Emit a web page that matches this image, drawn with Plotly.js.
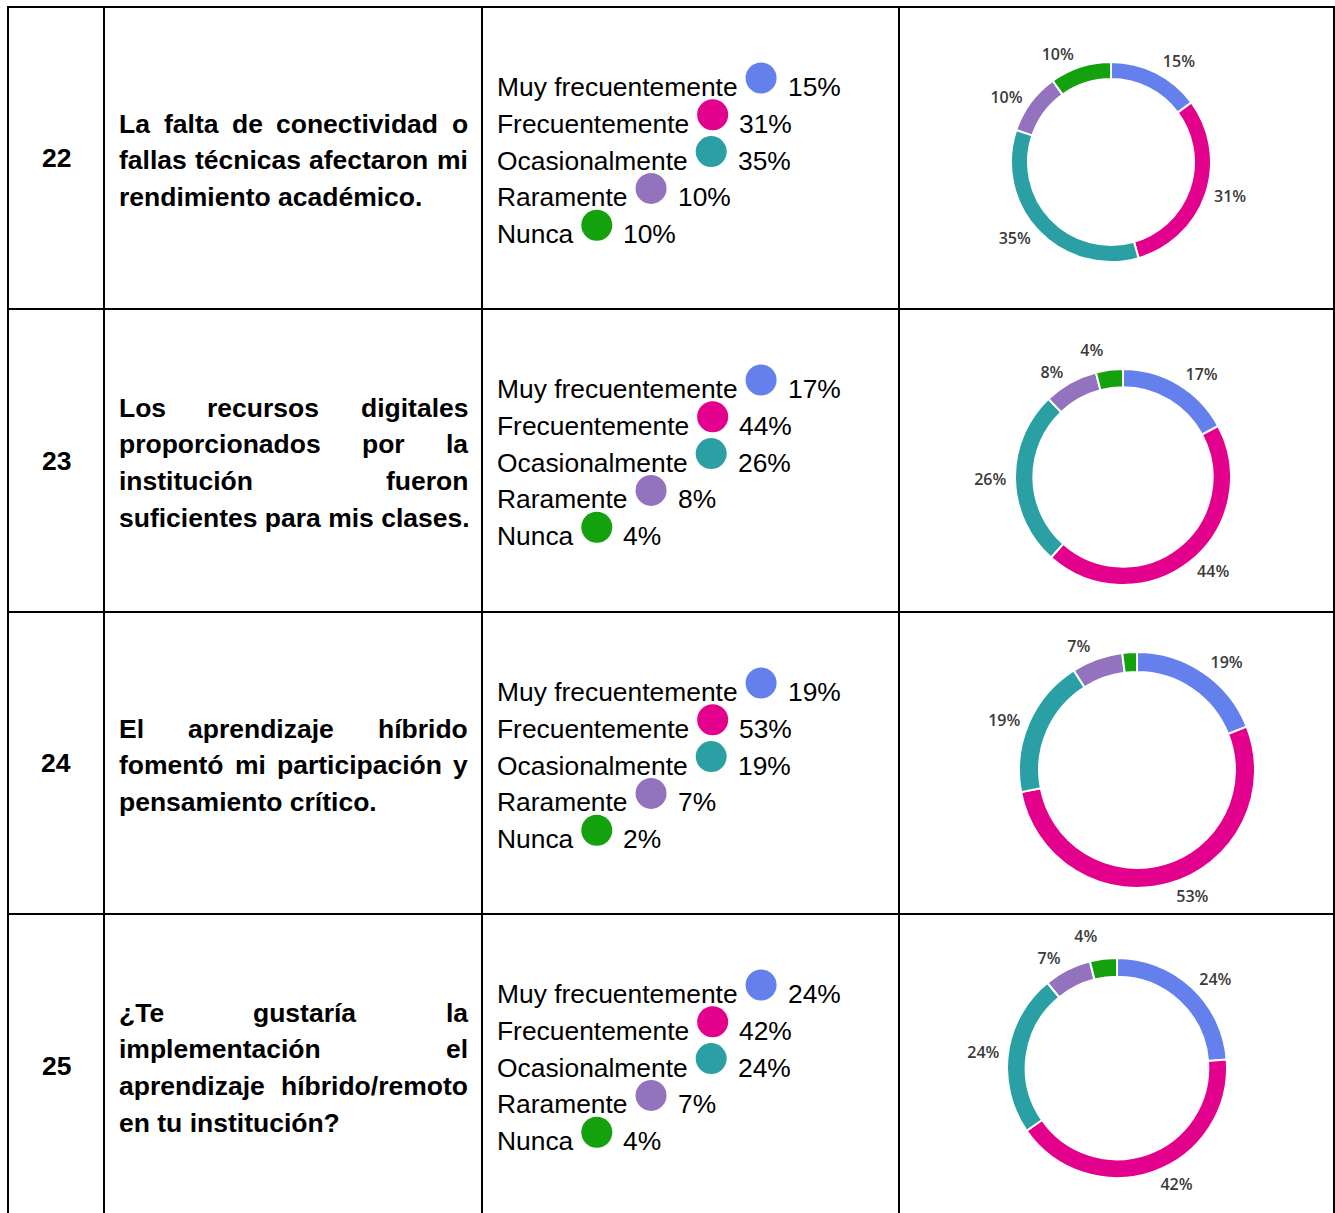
<!DOCTYPE html>
<html>
<head>
<meta charset="utf-8">
<script src="https://cdn.plot.ly/plotly-3.0.1.min.js"></script>
<style>
html,body{margin:0;padding:0;background:#fff;}
#chart{width:1335px;height:1213px;}
</style>
</head>
<body>
<div id="chart"></div>
<script>
// ---------------- DATA ----------------
const questionNumbers = ['22', '23', '24', '25'];
const questionLines = [
  ['La falta de conectividad o', 'fallas técnicas afectaron mi', 'rendimiento académico.'],
  ['Los recursos digitales', 'proporcionados por la', 'institución fueron', 'suficientes para mis clases.'],
  ['El aprendizaje híbrido', 'fomentó mi participación y', 'pensamiento crítico.'],
  ['¿Te gustaría la', 'implementación el', 'aprendizaje híbrido/remoto', 'en tu institución?']
];
const categories = ['Muy frecuentemente', 'Frecuentemente', 'Ocasionalmente', 'Raramente', 'Nunca'];
const q22 = [15, 31, 35, 10, 10];
const q23 = [17, 44, 26, 8, 4];
const q24 = [19, 53, 19, 7, 2];
const q25 = [24, 42, 24, 7, 4];
const seriesValues = [q22, q23, q24, q25];
// which slice labels are printed around each donut (the 2% slice of Q24 has none)
const labelShown = [
  [true, true, true, true, true],
  [true, true, true, true, true],
  [true, true, true, true, false],
  [true, true, true, true, true]
];

// ---------------- STYLE / LAYOUT ----------------
const sliceColors = ['#6380EC', '#E3008C', '#2AA0A4', '#9373BE', '#14A10E'];
const W = 1335, H = 1213;
const colX = [8, 104, 482, 899, 1334];
const rowY = [7, 309, 612, 914, 1222];
const lineGap = 36.8;
const questionStartY = [123.5, 407.5, 728.5, 1012.5];
const legendStartY = [87, 389, 692, 994];
const numberY = [158, 461, 763, 1066];
const textLeft = 118, textRight = 467;
const legendLeft = 496;
const numberX = 56;
const donutGeom = [
  {cx: 1111, cy: 162, r: 100},
  {cx: 1123, cy: 477, r: 108},
  {cx: 1137, cy: 770, r: 118},
  {cx: 1117, cy: 1068, r: 110}
];
const labelPush = 3; // labels sit a little further out than the ring
const FAM = 'Liberation Sans, Arial, sans-serif';
const qFontSize = 26.5, legFontSize = 26.4, dotSize = 31;

const ctx = document.createElement('canvas').getContext('2d');
function measure(text, font) { ctx.font = font; return ctx.measureText(text).width; }

const shapes = [];
colX.forEach(x => shapes.push({type: 'line', xref: 'x', yref: 'y', x0: x, x1: x, y0: rowY[0] - 1, y1: rowY[rowY.length - 1], line: {color: '#000', width: 2}}));
rowY.slice(0, 4).forEach(y => shapes.push({type: 'line', xref: 'x', yref: 'y', x0: colX[0] - 1, x1: colX[colX.length - 1] + 1, y0: y, y1: y, line: {color: '#000', width: 2}}));

const annotations = [];
const dotX = [], dotY = [], dotC = [];

questionNumbers.forEach((num, i) => {
  annotations.push({xref: 'x', yref: 'y', x: numberX, y: numberY[i], text: '<b>' + num + '</b>', showarrow: false,
    xanchor: 'center', yanchor: 'middle', font: {family: FAM, size: qFontSize, color: '#000'}});

  // justified question text
  const lines = questionLines[i];
  const bfont = 'bold ' + qFontSize + 'px "Liberation Sans"';
  lines.forEach((ln, j) => {
    const y = questionStartY[i] + j * lineGap;
    const words = ln.split(' ');
    if (j === lines.length - 1 || words.length < 2) {
      annotations.push({xref: 'x', yref: 'y', x: textLeft, y: y, text: '<b>' + ln + '</b>', showarrow: false,
        xanchor: 'left', yanchor: 'middle', borderpad: 0, font: {family: FAM, size: qFontSize, color: '#000'}});
    } else {
      const widths = words.map(w => measure(w, bfont));
      const total = widths.reduce((a, b) => a + b, 0);
      const gap = (textRight - textLeft - total) / (words.length - 1);
      let x = textLeft;
      words.forEach((w, k) => {
        annotations.push({xref: 'x', yref: 'y', x: x, y: y, text: '<b>' + w + '</b>', showarrow: false,
          xanchor: 'left', yanchor: 'middle', borderpad: 0, font: {family: FAM, size: qFontSize, color: '#000'}});
        x += widths[k] + gap;
      });
    }
  });

  // legend list
  const rfont = legFontSize + 'px "Liberation Sans"';
  categories.forEach((cat, k) => {
    const y = legendStartY[i] + k * lineGap;
    const wCat = measure(cat, rfont);
    annotations.push({xref: 'x', yref: 'y', x: legendLeft, y: y, text: cat, showarrow: false,
      xanchor: 'left', yanchor: 'middle', borderpad: 0, font: {family: FAM, size: legFontSize, color: '#000'}});
    const dx = legendLeft + wCat + 9 + dotSize / 2;
    dotX.push(dx); dotY.push(y - 9); dotC.push(sliceColors[k]);
    annotations.push({xref: 'x', yref: 'y', x: dx + dotSize / 2 + 10, y: y, text: seriesValues[i][k] + '%', showarrow: false,
      xanchor: 'left', yanchor: 'middle', borderpad: 0, font: {family: FAM, size: legFontSize, color: '#000'}});
  });
});

const traces = [];
traces.push({type: 'scatter', mode: 'markers', x: dotX, y: dotY, xaxis: 'x', yaxis: 'y',
  marker: {size: dotSize, color: dotC, line: {width: 0}}, hoverinfo: 'skip', showlegend: false, cliponaxis: false});

function dom(cx, cy, r) {
  return {x: [(cx - r) / W, (cx + r) / W], y: [1 - (cy + r) / H, 1 - (cy - r) / H]};
}

seriesValues.forEach((vals, i) => {
  const g = donutGeom[i];
  // visible ring
  traces.push({
    type: 'pie', values: vals, labels: categories, sort: false, direction: 'clockwise', rotation: 0,
    hole: 0.83, marker: {colors: sliceColors, line: {color: '#fff', width: 2}},
    textinfo: 'none', hoverinfo: 'label+value', showlegend: false,
    domain: dom(g.cx, g.cy, g.r)
  });
  // same values, invisible slices, only carrying the outside percentage labels
  traces.push({
    type: 'pie', values: vals, labels: categories, sort: false, direction: 'clockwise', rotation: 0,
    hole: 0.9, marker: {colors: vals.map(() => 'rgba(0,0,0,0)'), line: {width: 0}},
    texttemplate: labelShown[i].map(s => s ? '%{value}%' : ''), textposition: 'outside', automargin: false,
    textfont: {family: 'Open Sans, Noto Sans, sans-serif', size: 16, weight: 600, color: '#3a3a3a'},
    hoverinfo: 'skip', showlegend: false,
    domain: dom(g.cx, g.cy, g.r + labelPush)
  });
});

const layout = {
  width: W, height: H, margin: {l: 0, r: 0, t: 0, b: 0},
  paper_bgcolor: '#fff', plot_bgcolor: 'rgba(0,0,0,0)',
  xaxis: {range: [0, W], visible: false, fixedrange: true},
  yaxis: {range: [H, 0], visible: false, fixedrange: true},
  shapes: shapes, annotations: annotations, showlegend: false
};

Plotly.newPlot('chart', traces, layout, {displayModeBar: false, staticPlot: true}).then(gd => {
  // the reference has no leader lines from the slice labels
  gd.querySelectorAll('path.textline').forEach(p => p.remove());
});
</script>
</body>
</html>
